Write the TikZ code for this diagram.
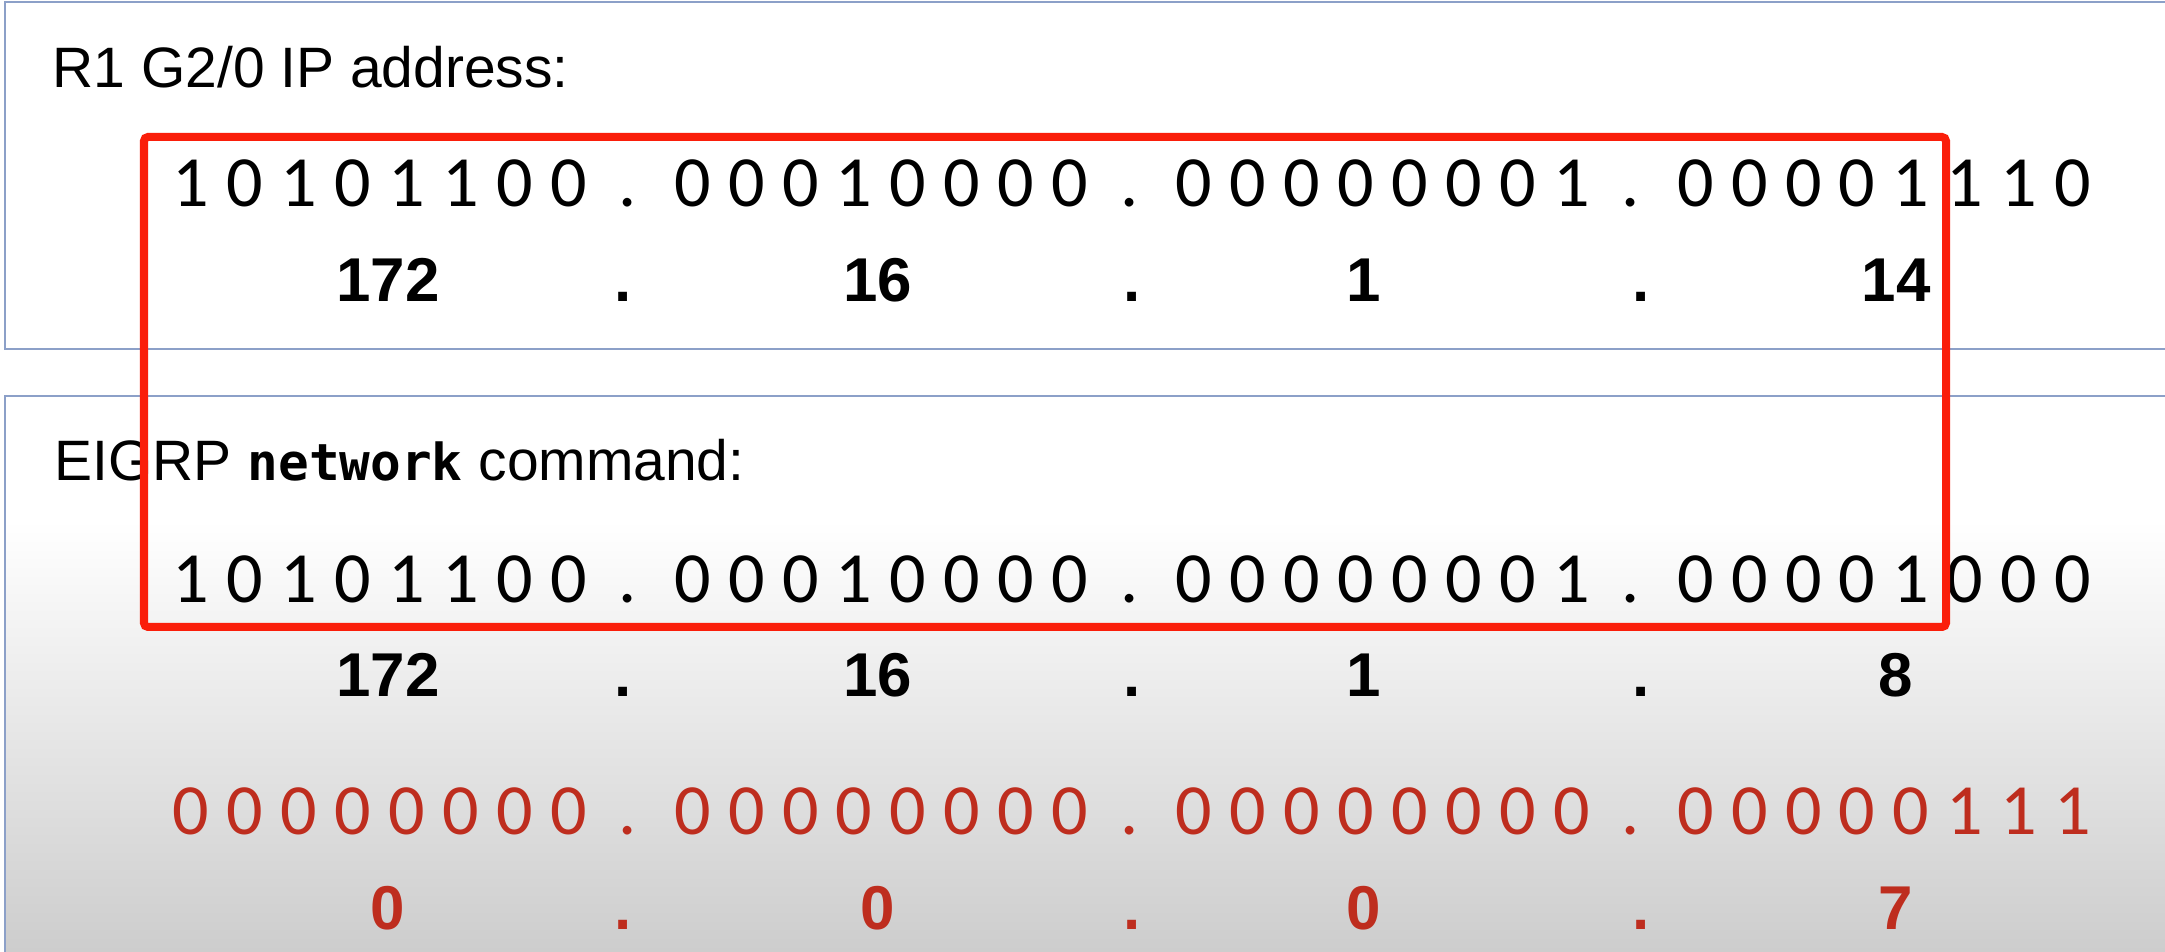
\documentclass[tikz,border=0pt]{standalone}
\usepackage{fontspec}
\setmainfont{Liberation Sans}
\newfontfamily\bitfont{Carlito}
\newfontfamily\cmdfont{DejaVu Sans Mono}

\definecolor{panelline}{RGB}{140,160,200}
\definecolor{boxred}{RGB}{250,30,10}
\definecolor{maskred}{RGB}{190,45,30}

\tikzset{
  heading/.style={anchor=base west,inner sep=0pt,font=\fontsize{16.2}{19}\selectfont},
  bit/.style={anchor=base,inner sep=0pt,font=\bitfont\fontsize{20.5}{24}\selectfont},
  dec/.style={anchor=base,inner sep=0pt,font=\bfseries\fontsize{17.6}{21}\selectfont},
}

% one row of 32 bits: name, baseline, colour, octets
\newcommand\bitrow[4]{%
  \foreach \oct [count=\k from 0] in {#4} {
    \foreach \b [count=\j from 0] in \oct {
      \node[bit,text=#3] (#1-\k-\j) at ({191+501.5*\k+53.9*\j},#2) {\b};
    }
  }
  \foreach \k in {0,1,2}
    \node[bit,text=#3] (#1-dot\k) at ({628+501.5*\k},#2) {.};
}

% one row of dotted decimals: name, baseline, colour, values
\newcommand\decrow[4]{%
  \foreach \v/\x [count=\i] in {#4}
    \node[dec,text=#3] (#1-\i) at (\x,#2) {\v};
  \foreach \x [count=\i] in {623,1132,1641}
    \node[dec,text=#3] (#1-dot\i) at (\x,#2) {.};
}

\begin{document}
\begin{tikzpicture}[x=0.01cm,y=-0.01cm]
  \useasboundingbox (0,0) rectangle (2165,952);
  % panels
  \fill[white] (0,0) rectangle (2165,952);
  \draw[panelline,line width=0.02cm] (5,2) rectangle (2200,349);
  \fill[white] (5,396) rectangle (2200,520);
  \shade[top color=white,bottom color=black!20] (5,520) rectangle (2200,960);
  \draw[panelline,line width=0.02cm] (2200,396) -- (5,396) -- (5,960);

  \node[heading] (iptitle) at (52,88) {R1 G2/0 IP address:};
  \node[heading] (cmdtitle) at (54,481)
    {EIGRP {\cmdfont\bfseries\fontsize{14.5}{17}\selectfont network} command:};

  \bitrow{ipbits}{207}{black}{{1,0,1,0,1,1,0,0},{0,0,0,1,0,0,0,0},{0,0,0,0,0,0,0,1},{0,0,0,0,1,1,1,0}}
  \decrow{ipdec}{302}{black}{172/388,16/878,1/1364,14/1896}

  \bitrow{netbits}{603}{black}{{1,0,1,0,1,1,0,0},{0,0,0,1,0,0,0,0},{0,0,0,0,0,0,0,1},{0,0,0,0,1,0,0,0}}
  \decrow{netdec}{697}{black}{172/388,16/878,1/1364,8/1896}

  \bitrow{wildbits}{835}{maskred}{{0,0,0,0,0,0,0,0},{0,0,0,0,0,0,0,0},{0,0,0,0,0,0,0,0},{0,0,0,0,0,1,1,1}}
  \decrow{wilddec}{930}{maskred}{0/388,0/878,0/1364,7/1896}

  % matching part
  \draw[boxred,line width=0.08cm,rounded corners=0.04cm] (144,137) rectangle (1946,627);
\end{tikzpicture}
\end{document}
